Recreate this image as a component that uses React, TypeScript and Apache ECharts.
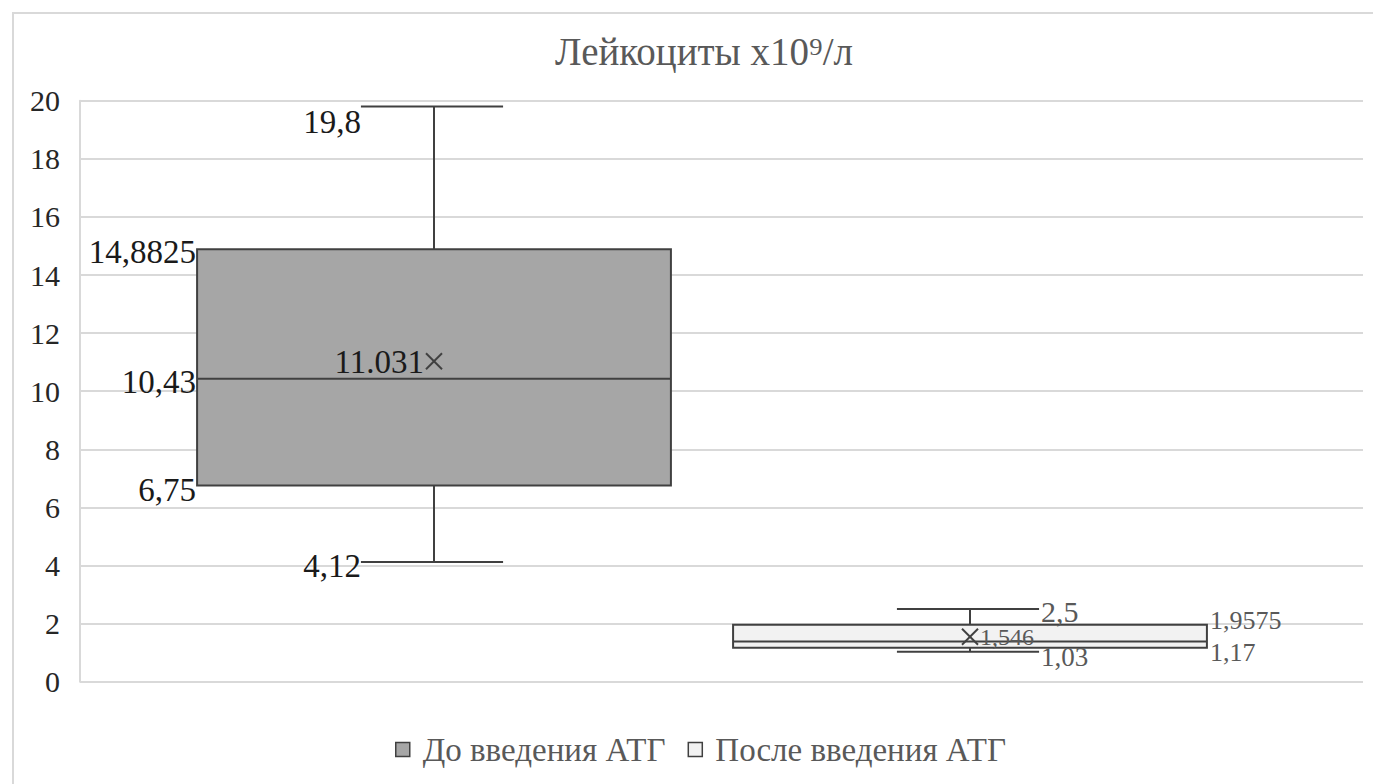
import React, { useEffect, useRef } from 'react';
import * as echarts from 'echarts';

const chartTitle = 'Лейкоциты x10⁹/л';
const categories = ['До введения АТГ', 'После введения АТГ'];
const minValues = [4.12, 1.03];
const q1Values = [6.75, 1.17];
const medianValues = [10.43, 1.38];
const q3Values = [14.8825, 1.9575];
const maxValues = [19.8, 2.5];
const meanValues = [11.031, 1.546];
const meanSeparators = ['.', ','];
const showMedianLabel = [true, false];
const yMin = 0;
const yMax = 20;
const yStep = 2;

const FONT = 'Times New Roman, Liberation Serif, DejaVu Serif, serif';
const seriesStyles = [
  { fill: '#a6a6a6', stroke: '#404040', text: '#1a1a1a', side: 'left', labelFont: 33, meanFont: 33 },
  { fill: '#f2f2f2', stroke: '#404040', text: '#595959', side: 'right', labelFont: 26, meanFont: 24 },
];

const fmt = (v: number, sep = ',') => String(v).replace('.', sep);

function makeRender(s: number) {
  const st = seriesStyles[s];
  return (params: any, api: any) => {
    const c = api.value(0);
    const [cx, yMinP] = api.coord([c, api.value(1)]);
    const yQ1 = api.coord([c, api.value(2)])[1];
    const yMed = api.coord([c, api.value(3)])[1];
    const yQ3 = api.coord([c, api.value(4)])[1];
    const yMaxP = api.coord([c, api.value(5)])[1];
    const yMean = api.coord([c, api.value(6)])[1];
    const band = api.size([1, 0])[0];
    const bw = band * 0.884;
    const cw = bw * 0.3;
    const left = cx - bw / 2;
    const right = cx + bw / 2;
    const capL = cx - cw / 2 - 2;
    const capR = cx + cw / 2 - 2;
    const lineStyle = { stroke: st.stroke, lineWidth: 2 };
    const children: any[] = [
      { type: 'line', shape: { x1: cx, y1: yMaxP, x2: cx, y2: yQ3 }, style: lineStyle },
      { type: 'line', shape: { x1: cx, y1: yQ1, x2: cx, y2: yMinP }, style: lineStyle },
      { type: 'line', shape: { x1: capL, y1: yMaxP, x2: capR, y2: yMaxP }, style: lineStyle },
      { type: 'line', shape: { x1: capL, y1: yMinP, x2: capR, y2: yMinP }, style: lineStyle },
      {
        type: 'rect',
        shape: { x: left, y: yQ3, width: bw, height: yQ1 - yQ3 },
        style: { fill: st.fill, stroke: st.stroke, lineWidth: 2 },
      },
      { type: 'line', shape: { x1: left, y1: yMed, x2: right, y2: yMed }, style: lineStyle },
      { type: 'line', shape: { x1: cx - 8, y1: yMean - 8, x2: cx + 8, y2: yMean + 8 }, style: { stroke: st.stroke, lineWidth: 2 } },
      { type: 'line', shape: { x1: cx - 8, y1: yMean + 8, x2: cx + 8, y2: yMean - 8 }, style: { stroke: st.stroke, lineWidth: 2 } },
    ];
    const txt = (text: string, x: number, y: number, align: string, size = st.labelFont) => ({
      type: 'text',
      x,
      y,
      z2: 10,
      style: { text, x: 0, y: 0, fill: st.text, fontSize: size, fontFamily: FONT, align, verticalAlign: 'middle' },
    });
    if (st.side === 'left') {
      children.push(txt(fmt(api.value(5)), capL, yMaxP + 15, 'right'));
      children.push(txt(fmt(api.value(4)), left - 1, yQ3 + 3, 'right'));
      if (showMedianLabel[s]) children.push(txt(fmt(api.value(3)), left - 1, yMed + 3, 'right'));
      children.push(txt(fmt(api.value(2)), left - 1, yQ1 + 4, 'right'));
      children.push(txt(fmt(api.value(1)), capL, yMinP + 4, 'right'));
      children.push(txt(fmt(api.value(6), meanSeparators[s]), cx - 10, yMean + 1, 'right', st.meanFont));
    } else {
      children.push(txt(fmt(api.value(5)), capR + 2, yMaxP + 2, 'left', 30));
      children.push(txt(fmt(api.value(4)), right + 3, yQ3 - 4, 'left'));
      if (showMedianLabel[s]) children.push(txt(fmt(api.value(3)), right + 3, yMed, 'left'));
      children.push(txt(fmt(api.value(2)), right + 3, yQ1 + 5, 'left'));
      children.push(txt(fmt(api.value(1)), capR + 2, yMinP + 5, 'left', 27));
      children.push(txt(fmt(api.value(6), meanSeparators[s]), cx + 10, yMean, 'left', st.meanFont));
    }
    return { type: 'group', children };
  };
}

export default function App() {
  const ref = useRef<HTMLDivElement>(null);
  useEffect(() => {
    if (!ref.current) return;
    const chart = echarts.init(ref.current, null, { renderer: 'svg' });
    const gridTop = 100.7;
    const gridBottom = 784 - 681.7;
    const option: any = {
      animation: false,
      backgroundColor: '#ffffff',
      title: {
        text: chartTitle,
        left: 550,
        top: 27,
        textStyle: { fontFamily: FONT, fontSize: 39, fontWeight: 'normal', color: '#595959' },
      },
      graphic: [
        {
          type: 'rect',
          shape: { x: 13, y: 13, width: 1420, height: 820 },
          style: { fill: 'none', stroke: '#d9d9d9', lineWidth: 2 },
          silent: true,
        },
      ],
      legend: {
        left: 390,
        top: 728,
        itemWidth: 14,
        itemHeight: 14,
        itemGap: 22,
        icon: 'rect',
        textStyle: { fontFamily: FONT, fontSize: 33, color: '#595959', padding: [0, 0, 0, 8] },
        data: categories.map((name, i) => ({
          name,
          itemStyle: { color: seriesStyles[i].fill, borderColor: '#404040', borderWidth: 1.5 },
        })),
      },
      grid: [
        { left: 80, right: 10, top: gridTop, bottom: gridBottom },
        { left: 166, right: 135, top: gridTop, bottom: gridBottom },
      ],
      xAxis: [
        { type: 'category', gridIndex: 0, data: [''], show: false },
        { type: 'category', gridIndex: 1, data: categories, show: false },
      ],
      yAxis: [
        {
          type: 'value',
          gridIndex: 0,
          min: yMin,
          max: yMax,
          interval: yStep,
          axisLine: { show: true, lineStyle: { color: '#d9d9d9', width: 2 } },
          axisTick: { show: false },
          splitLine: { lineStyle: { color: '#d9d9d9', width: 2 } },
          axisLabel: { margin: 20, fontFamily: FONT, fontSize: 30, color: '#262626' },
        },
        { type: 'value', gridIndex: 1, min: yMin, max: yMax, interval: yStep, show: false, splitLine: { show: false } },
      ],
      series: categories.map((name, i) => ({
        type: 'custom',
        name,
        xAxisIndex: 1,
        yAxisIndex: 1,
        itemStyle: { color: seriesStyles[i].fill, borderColor: '#404040' },
        encode: { x: 0, y: [1, 2, 3, 4, 5, 6] },
        data: [[i, minValues[i], q1Values[i], medianValues[i], q3Values[i], maxValues[i], meanValues[i]]],
        renderItem: makeRender(i),
      })),
    };
    chart.setOption(option);
    return () => chart.dispose();
  }, []);
  return (
    <div
      ref={ref}
      style={{ position: 'fixed', left: 0, top: 0, width: 1373, height: 784 }}
    />
  );
}
